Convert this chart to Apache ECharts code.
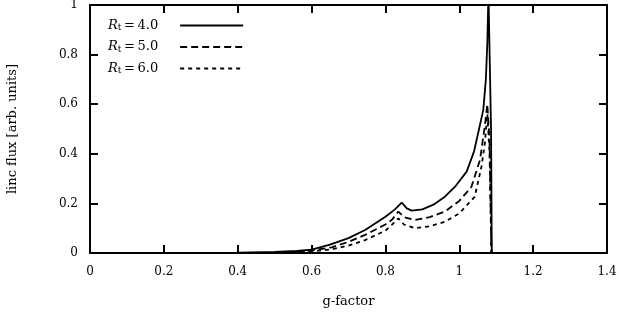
<!DOCTYPE html>
<html>
<head>
<meta charset="utf-8">
<script src="https://cdn.jsdelivr.net/npm/echarts@6/dist/echarts.min.js"></script>
<style>html,body{margin:0;padding:0;background:#fff;}#c{width:619px;height:316px;}</style>
</head>
<body>
<div id="c"></div>
<script>
// Data
const xR4 = [0.32, 0.4, 0.5, 0.56, 0.6, 0.65, 0.7, 0.745, 0.8, 0.825, 0.844, 0.858, 0.871, 0.9, 0.93, 0.961, 0.99, 1.02, 1.04, 1.051, 1.065, 1.072, 1.076, 1.079, 1.086, 1.088, 1.1];
const yR4 = [0.0, 0.001, 0.004, 0.008, 0.014, 0.034, 0.06, 0.093, 0.146, 0.175, 0.203, 0.18, 0.171, 0.176, 0.195, 0.227, 0.27, 0.328, 0.41, 0.483, 0.577, 0.7, 0.85, 1.05, 0.5, 0, 0];
const xR5 = [0.5, 0.56, 0.6, 0.655, 0.7, 0.745, 0.8, 0.817, 0.835, 0.85, 0.88, 0.92, 0.961, 1.0, 1.033, 1.056, 1.069, 1.076, 1.082, 1.087, 1.1];
const yR5 = [0, 0.005, 0.01, 0.023, 0.045, 0.073, 0.115, 0.133, 0.167, 0.145, 0.133, 0.145, 0.167, 0.21, 0.267, 0.375, 0.51, 0.6, 0.45, 0, 0];
const xR6 = [0.55, 0.6, 0.655, 0.7, 0.745, 0.8, 0.817, 0.835, 0.85, 0.88, 0.92, 0.961, 1.0, 1.042, 1.06, 1.069, 1.076, 1.082, 1.087, 1.1];
const yR6 = [0, 0.006, 0.015, 0.03, 0.052, 0.09, 0.113, 0.14, 0.115, 0.1, 0.108, 0.126, 0.16, 0.227, 0.348, 0.44, 0.56, 0.4, 0, 0];
const seriesNames = ['R4', 'R5', 'R6'];
const legendValues = ['4.0', '5.0', '6.0'];

const pairs = (xs, ys) => xs.map((x, i) => [x, ys[i]]);
const FONT = '"DejaVu Serif", "Liberation Serif", serif';
const chart = echarts.init(document.getElementById('c'), null, {renderer: 'canvas'});

const axisCommon = {
  axisLine: {show: true, onZero: false, lineStyle: {color: '#000', width: 2}},
  axisTick: {show: true, inside: true, length: 8, lineStyle: {color: '#000', width: 2}},
  splitLine: {show: false}
};

chart.setOption({
  animation: false,
  backgroundColor: '#fff',
  grid: {left: 90, right: 12, top: 5, bottom: 63, show: false, outerBoundsMode: 'none', containLabel: false},
  legend: {
    orient: 'vertical', left: 103, top: 14, align: 'right',
    itemWidth: 63, itemHeight: 14, itemGap: 8,
    data: seriesNames,
    itemStyle: {opacity: 0},
    formatter: function (n) {
      const v = legendValues[seriesNames.indexOf(n)];
      return '{r|R}{s|t}{n|\u2009=\u2009' + v + '}';
    },
    textStyle: {
      color: '#000', fontFamily: FONT, fontSize: 13,
      rich: {
        r: {fontFamily: FONT, fontStyle: 'italic', fontSize: 13, color: '#000'},
        s: {fontFamily: FONT, fontSize: 9, color: '#000', padding: [5, 0, 0, 0]},
        n: {fontFamily: FONT, fontSize: 13, color: '#000', padding: [0, 17, 0, 0]}
      }
    }
  },
  xAxis: [
    Object.assign({}, axisCommon, {
      type: 'value', min: 0, max: 1.4, interval: 0.2, position: 'bottom',
      name: 'g-factor', nameLocation: 'middle', nameGap: 42,
      nameTextStyle: {fontFamily: FONT, fontSize: 13, color: '#000'},
      axisLabel: {color: '#000', fontFamily: FONT, fontSize: 12, margin: 13}
    }),
    Object.assign({}, axisCommon, {
      type: 'value', min: 0, max: 1.4, interval: 0.2, position: 'top',
      axisLabel: {show: false}
    })
  ],
  yAxis: [
    Object.assign({}, axisCommon, {
      type: 'value', min: 0, max: 1, interval: 0.2, position: 'left',
      name: 'linc flux [arb. units]', nameLocation: 'middle', nameGap: 71,
      nameTextStyle: {fontFamily: FONT, fontSize: 13, color: '#000'},
      axisLabel: {color: '#000', fontFamily: FONT, fontSize: 12, margin: 12}
    }),
    Object.assign({}, axisCommon, {
      type: 'value', min: 0, max: 1, interval: 0.2, position: 'right',
      axisLabel: {show: false}
    })
  ],
  series: [
    {name: 'R4', type: 'line', data: pairs(xR4, yR4), showSymbol: false, symbol: 'none', clip: true,
     lineStyle: {color: '#000', width: 1.8, type: 'solid'}, itemStyle: {color: '#000'}},
    {name: 'R5', type: 'line', data: pairs(xR5, yR5), showSymbol: false, symbol: 'none', clip: true,
     lineStyle: {color: '#000', width: 1.8, type: [7, 4]}, itemStyle: {color: '#000'}},
    {name: 'R6', type: 'line', data: pairs(xR6, yR6), showSymbol: false, symbol: 'none', clip: true,
     lineStyle: {color: '#000', width: 1.8, type: [4, 4]}, itemStyle: {color: '#000'}}
  ]
});
</script>
</body>
</html>
